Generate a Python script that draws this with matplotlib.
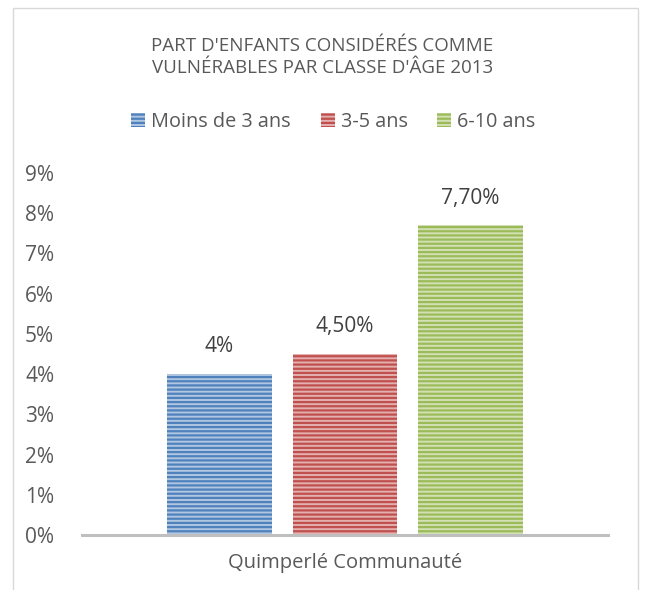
import matplotlib
matplotlib.use("Agg")
import matplotlib.pyplot as plt
from matplotlib.patches import Rectangle
from matplotlib.colors import to_rgb
import numpy as np

plt.rcParams['font.family'] = ['Open Sans', 'DejaVu Sans']
plt.rcParams['hatch.linewidth'] = 1.6

# Data
category = "Quimperlé Communauté"
series = ["Moins de 3 ans", "3-5 ans", "6-10 ans"]
values = [4.0, 4.5, 7.7]
value_labels = ["4%", "4,50%", "7,70%"]
yticks = [0, 1, 2, 3, 4, 5, 6, 7, 8, 9]
title = "PART D'ENFANTS CONSIDÉRÉS COMME\nVULNÉRABLES PAR CLASSE D'ÂGE 2013"

colors = ["#4F81BD", "#C0504D", "#9BBB59"]

def lighten(c, f):
    r, g, b = to_rgb(c)
    return (r + (1 - r) * f, g + (1 - g) * f, b + (1 - b) * f)

fig = plt.figure(figsize=(6.45, 5.9), dpi=100)
fig.patch.set_facecolor("white")
fig.patches.append(Rectangle((12.5 / 645, -0.05), (638 - 12.5) / 645, 1.05 - 7.5 / 590,
                             transform=fig.transFigure, fill=False,
                             edgecolor="#D9D9D9", linewidth=1.0))

ax = fig.add_axes([82 / 645, 55 / 590, (608 - 82) / 645, (535 - 173) / 590])

width = 0.198
step = 0.2386
offsets = (np.arange(len(series)) - 1) * step
handles = []
for i, (s, v, lab, c) in enumerate(zip(series, values, value_labels, colors)):
    b = ax.bar(offsets[i], v, width=width, facecolor=lighten(c, 0.55),
               edgecolor=c, hatch="----", linewidth=0, label=s)
    handles.append(b)
    ax.annotate(lab, (offsets[i], v), xytext=(0, 12), textcoords="offset points",
                ha="center", va="bottom", fontsize=15, color="#404040")

ax.set_xlim(-0.5, 0.5)
ax.set_ylim(0, 9)
ax.set_yticks(yticks)
ax.set_yticklabels([f"{t}%" for t in yticks])
ax.set_xticks([0])
ax.set_xticklabels([category])
ax.tick_params(axis="y", length=0, pad=20, labelsize=15, labelcolor="#595959")
ax.tick_params(axis="x", length=0, pad=13, labelsize=14.5, labelcolor="#595959")
for sp in ["top", "right", "left"]:
    ax.spines[sp].set_visible(False)
ax.spines["bottom"].set_color("#BFBFBF")
ax.spines["bottom"].set_linewidth(2.2)
ax.set_facecolor("none")

fig.text(0.5, (590 - 57) / 590, title, ha="center", va="center", fontsize=13.5,
         color="#595959", linespacing=1.35)

leg = fig.legend(handles=handles, labels=series, loc="center", ncol=3,
                 bbox_to_anchor=(0.5 + 11 / 645, (590 - 122) / 590), frameon=False,
                 fontsize=14.3, handlelength=0.7, handleheight=0.7,
                 handletextpad=0.3, columnspacing=1.5)
for t in leg.get_texts():
    t.set_color("#595959")

fig.savefig("out.png", dpi=100, facecolor="white")
